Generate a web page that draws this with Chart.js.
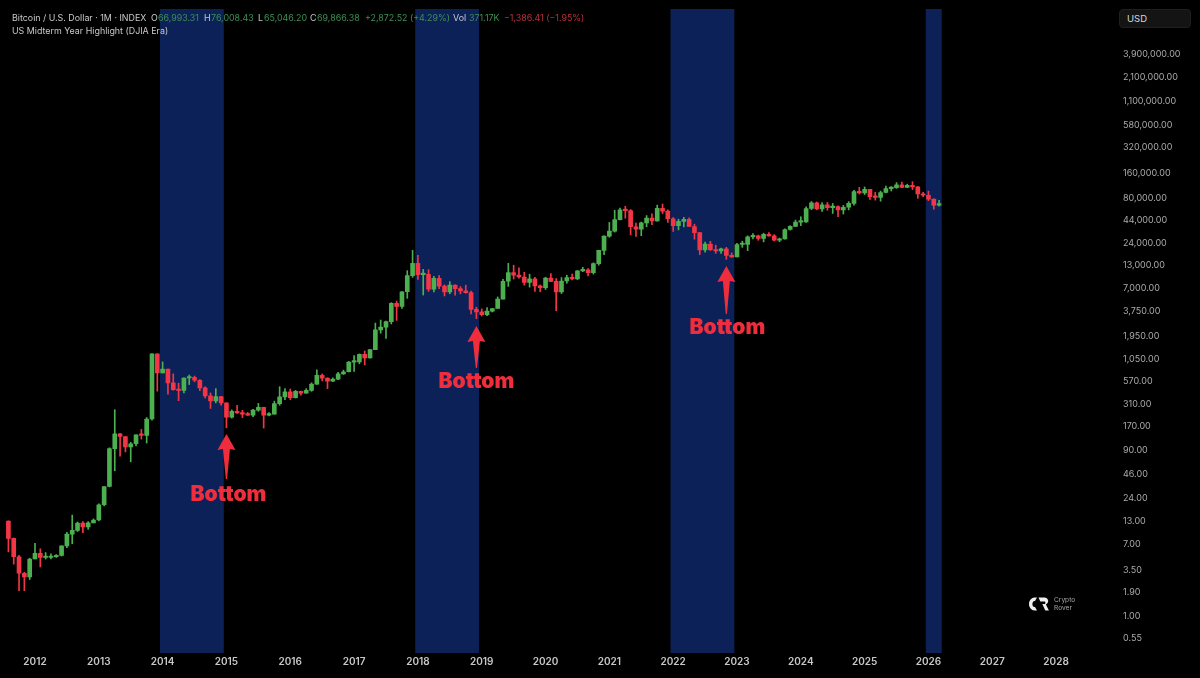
<!DOCTYPE html>
<html><head><meta charset="utf-8">
<script src="https://cdn.jsdelivr.net/npm/chart.js@4"></script>
<style>
html,body{margin:0;padding:0;background:#000;width:1200px;height:678px;overflow:hidden}
#wrap{position:relative;width:1200px;height:678px}
canvas{position:absolute;left:0;top:0}
.t{position:absolute;font:8.9px Inter,sans-serif;white-space:nowrap;color:#c9c9c9;line-height:10px}
.g{color:#3f8f55}.r{color:#b8303c}
#usd{position:absolute;left:1119px;top:9px;width:72px;height:19px;box-sizing:border-box;background:#141414;border:1px solid #1f1f1f;border-radius:4px;color:#d8d8d8;font:9.5px Inter,sans-serif;line-height:17px;padding-left:7px}
#logo{position:absolute;left:1028px;top:596px}
.l{position:absolute;font:6.6px Inter,sans-serif;color:#a8a8a8;left:1054px;line-height:8px}
</style></head><body><div id="wrap">
<canvas id="c" width="1200" height="678"></canvas>
<div class="t" style="left:12px;top:13px">Bitcoin / U.S. Dollar · 1M · INDEX</div>
<div class="t" style="left:151px;top:13px">O</div><div class="t g" style="left:158px;top:13px">66,993.31</div>
<div class="t" style="left:204px;top:13px">H</div><div class="t g" style="left:211px;top:13px">76,008.43</div>
<div class="t" style="left:258px;top:13px">L</div><div class="t g" style="left:264px;top:13px">65,046.20</div>
<div class="t" style="left:310px;top:13px">C</div><div class="t g" style="left:317px;top:13px">69,866.38</div>
<div class="t g" style="left:365px;top:13px">+2,872.52 (+4.29%)</div>
<div class="t" style="left:453px;top:13px">Vol</div><div class="t g" style="left:469px;top:13px">371.17K</div>
<div class="t r" style="left:504px;top:13px">−1,386.41 (−1.95%)</div>
<div class="t" style="left:12px;top:26px">US Midterm Year Highlight (DJIA Era)</div>
<div id="usd">USD</div>
<svg id="logo" width="22" height="16" viewBox="0 0 22 16"><path d="M9 1.5H6.5C3.5 1.5 1 4.5 1 8s2.5 6.5 5.5 6.5H9l-2-3.4H6.5C5.2 11.1 4.4 9.6 4.4 8s.8-3.1 2.1-3.1H7z" fill="#eee"/><path d="M10.5 1.5h5.7c2.4 0 4 1.6 4 3.6 0 1.5-.9 2.8-2.3 3.3l3 6.1h-3.6l-3-6.5h2.2c.6 0 .9-.4.9-1.2s-.5-1.2-1.1-1.2h-4z" fill="#eee"/></svg>
<div class="l" style="top:596px">Crypto</div><div class="l" style="top:604px">Rover</div>
</div>
<script>
// monthly candles, Aug 2011 .. Mar 2026
const firstMonth = [2011, 8];
const open = [13.1,8.2,5.0,3.2,2.9,
4.7,5.5,4.9,4.9,5.0,5.2,6.7,9.2,10.2,12.4,11.2,12.5,
13.5,20.4,33.4,93,139,129,97,106,135,133,207,1200,
718,800,549,457,447,627,640,589,480,386,338,378,
320,217,254,244,236,230,263,284,230,236,314,377,
430,368,437,416,448,531,673,624,575,609,700,742,
963,970,1190,1080,1348,2300,2480,2875,4700,4340,6450,9950,
13860,10260,10300,6930,9240,7500,6400,7730,7020,6610,6300,4010,
3740,3460,3810,4100,5270,8550,10820,10080,9600,8300,9150,7550,
7190,9350,8540,6410,8620,9450,9140,11350,11650,10780,13800,19700,
29000,33100,45200,58800,57700,37300,35000,41500,47100,43800,61300,57000,
46300,38500,43200,45500,37600,31800,19900,23300,20050,19400,20500,17150,
16550,23100,23150,28450,29250,27200,30450,29200,25950,26950,34650,37700,
42250,42600,61100,71300,60650,67500,62700,64600,58950,63300,70200,96400,
93400,102400,84300,82500,94200,104600,107100,115700,108200,114000,109500,90400,
87500,78600,66993.31];
const high = [13.2,8.3,5.2,3.3,4.8,
7.2,6.2,5.6,5.4,5.3,6.7,9.7,15.4,12.8,12.9,12.9,13.9,
20.9,33.4,95,266,140,129,110,135,156,215,1200,1200,
968,800,700,545,630,680,660,600,495,418,470,382,
320,265,300,262,247,268,315,285,246,335,495,470,
465,448,440,470,550,780,700,630,630,730,775,980,
1150,1200,1300,1350,2760,3000,2920,4800,5000,6470,11400,19700,
17200,11800,11700,9750,10000,7780,8480,7750,7400,7690,6570,4240,
4060,4190,4120,5600,9000,13880,13200,12330,10900,10350,9530,7750,
9550,10500,9190,9450,10070,10380,11430,12480,12070,14100,19800,29300,
41950,58330,61800,64850,59500,41300,42400,50500,52900,67000,69000,59000,
47900,45800,48200,47400,40000,31900,24700,25200,22700,21000,21400,18400,
23900,25250,29200,31000,29800,31400,31800,30200,27500,35200,38400,44700,
48900,64000,73800,72800,71900,72000,70000,65600,66500,73600,99800,108300,
109400,102800,95000,97900,112000,110500,123200,124500,117900,126200,110600,94600,
97900,79300,76008.43];
const low = [5.7,4.1,2.0,2.0,2.7,
4.7,3.8,4.7,4.7,4.9,5.1,6.4,7.1,9.9,9.6,10.5,12.5,
13.2,19.7,33,51,76,85,65,100,120,108,200,440,
718,405,450,340,420,525,565,445,365,275,320,300,
163,212,240,215,228,220,255,162,225,236,300,350,
350,365,395,415,437,525,580,470,568,600,690,735,
750,920,890,1070,1348,2100,1830,2700,2970,4100,5400,9500,
9000,5900,6500,6420,7000,5750,6100,5880,6100,6200,3550,3120,
3350,3370,3730,4100,5320,7450,9100,9320,7700,7300,6510,6430,
6850,8450,3850,6150,8100,8900,8960,11100,9880,10380,13200,17600,
28100,32300,45000,47000,30000,28800,29300,37300,39600,43300,53300,42000,
32900,34300,37200,37600,26700,17600,18800,19600,18200,18200,15500,16300,
16500,21400,19600,26900,25900,24800,28900,25400,24900,26600,34100,37600,
38500,41900,59300,59000,56500,58400,53500,49000,52600,58900,66800,90500,
89200,78200,76600,74500,93400,98200,105300,107300,107300,102000,80600,84400,
75700,60000,65046.2];
const close = [8.2,5.0,3.2,2.9,4.7,
5.5,4.9,4.9,5.0,5.2,6.7,9.2,10.2,12.4,11.2,12.5,13.5,
20.4,33.4,93,139,129,97,106,135,133,207,1200,718,
800,549,457,447,627,640,589,480,386,338,378,320,
217,254,244,236,230,263,284,230,236,314,377,430,
368,437,416,448,531,673,624,575,609,700,742,963,
970,1190,1080,1348,2300,2480,2875,4700,4340,6450,9950,13860,
10260,10300,6930,9240,7500,6400,7730,7020,6610,6300,4010,3740,
3460,3810,4100,5270,8550,10820,10080,9600,8300,9150,7550,7190,
9350,8540,6410,8620,9450,9140,11350,11650,10780,13800,19700,29000,
33100,45200,58800,57700,37300,35000,41500,47100,43800,61300,57000,46300,
38500,43200,45500,37600,31800,19900,23300,20050,19400,20500,17150,16550,
23100,23150,28450,29250,27200,30450,29200,25950,26950,34650,37700,42250,
42600,61100,71300,60650,67500,62700,64600,58950,63300,70200,96400,93400,
102400,84300,82500,94200,104600,107100,115700,108200,114000,109500,90400,87500,
78600,66993.31,69866.38];
const yearLabels = [2012,2013,2014,2015,2016,2017,2018,2019,2020,2021,2022,2023,2024,2025,2026,2027,2028];
const priceTicks = [3900000,2100000,1100000,580000,320000,160000,80000,44000,24000,13000,7000,3750,1950,1050,570,310,170,90,46,24,13,7,3.5,1.9,1,0.55];
const bandStartMonth = ['2014-01','2018-01','2022-01','2026-01'];
const bandEndMonth = ['2014-12','2018-12','2022-12','2026-03'];
const bottomMonth = ['2015-01','2018-12','2022-11'];
const bottomTip = [138,2555,12920];
const bottomLabel = ['Bottom','Bottom','Bottom'];

const idx = m => { const [y,mo] = m.split('-').map(Number); return (y-firstMonth[0])*12 + mo-firstMonth[1]; };
const UP = '#4caf50', DOWN = '#f23645', RED = '#f02d3d';
const colors = close.map((c,i) => c >= open[i] ? UP : DOWN);

const bandsPlugin = { id:'bands', beforeDatasetsDraw(ch){
  const {ctx,chartArea:a,scales:{x}} = ch;
  ctx.save(); ctx.fillStyle = '#0c2157';
  bandStartMonth.forEach((s,i)=>{
    const l = x.getPixelForValue(idx(s)-0.5), r = x.getPixelForValue(idx(bandEndMonth[i])+0.5);
    ctx.fillRect(l,a.top,r-l,a.bottom-a.top);
  });
  ctx.restore();
}};
const arrowsPlugin = { id:'arrows', afterDatasetsDraw(ch){
  const {ctx,scales:{x,y}} = ch;
  ctx.save(); ctx.fillStyle = RED; ctx.textAlign='center'; ctx.textBaseline='middle';
  bottomMonth.forEach((m,i)=>{
    const px = x.getPixelForValue(idx(m)), py = y.getPixelForValue(bottomTip[i]);
    const len = [45,42,48][i], gap = [61,56,62][i];
    ctx.beginPath();
    ctx.moveTo(px,py); ctx.lineTo(px+9,py+16); ctx.lineTo(px+3.5,py+15);
    ctx.lineTo(px+0.6,py+len); ctx.lineTo(px-0.6,py+len); ctx.lineTo(px-3.5,py+15); ctx.lineTo(px-9,py+16);
    ctx.closePath(); ctx.fill();
    ctx.font = '900 21px Inter, sans-serif';
    ctx.fillText(bottomLabel[i], px+[2,0,1][i], py+gap);
  });
  ctx.restore();
}};
const noPad = s => { s.paddingLeft = s.paddingRight = s.paddingTop = s.paddingBottom = 0; };
const xs = open.map((_,i)=>i);
new Chart(document.getElementById('c'),{
  type:'bar',
  data:{ datasets:[
    { label:'Wick', data: xs.map(i=>({x:i,y:[low[i],high[i]]})), backgroundColor:colors, barThickness:1, grouped:false, order:2 },
    { label:'Body', data: xs.map(i=>({x:i,y:[Math.min(open[i],close[i]),Math.max(open[i],close[i])]})), backgroundColor:colors, barThickness:4, grouped:false, minBarLength:1.5, borderRadius:0.5, order:1 }
  ]},
  plugins:[bandsPlugin,arrowsPlugin],
  options:{
    responsive:false, animation:false,
    layout:{padding:{top:9,left:0,right:0,bottom:0}},
    plugins:{legend:{display:false},tooltip:{enabled:false},title:{display:false}},
    scales:{
      x:{ type:'linear', offset:false, min:-1.58, max:203, grid:{display:false,drawTicks:false}, border:{display:false},
        afterBuildTicks(s){ s.ticks = yearLabels.map(y=>({value:idx(y+'-01')})); },
        afterFit(s){ s.height = 25; noPad(s); },
        ticks:{ autoSkip:false, maxRotation:0, padding:3, color:'#c8c8c8', font:{family:'Inter',size:10,weight:'600'},
          callback(v){ return String(firstMonth[0] + Math.floor((v+firstMonth[1]-1)/12)); } } },
      y:{ type:'logarithmic', position:'right', min:0.371, max:13420000, grid:{display:false,drawTicks:false}, border:{display:false},
        afterBuildTicks(s){ s.ticks = priceTicks.map(v=>({value:v})); },
        afterFit(s){ s.width = 112; noPad(s); },
        ticks:{ autoSkip:false, crossAlign:'near', padding:35, color:'#aaaaaa', font:{family:'Inter',size:9},
          callback(v){ return Number(v).toLocaleString('en-US',{minimumFractionDigits:2,maximumFractionDigits:2}); } } }
    }
  }
});
</script></body></html>
